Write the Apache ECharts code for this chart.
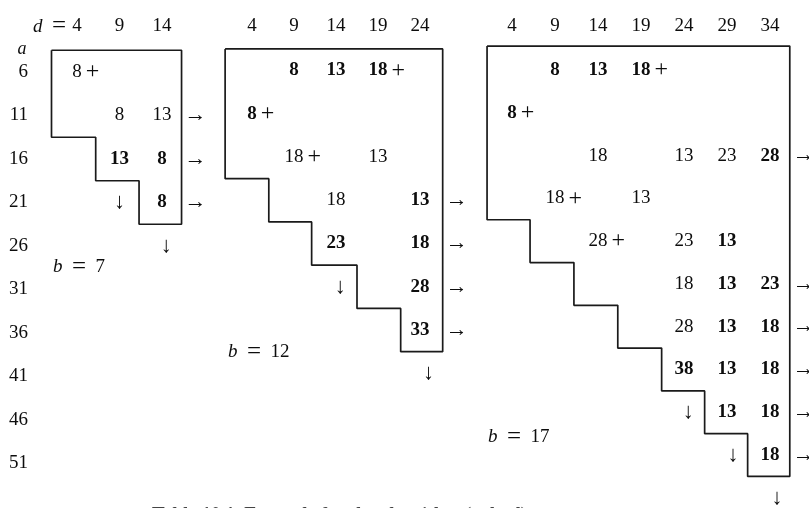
<!DOCTYPE html>
<html><head><meta charset="utf-8">
<script src="https://cdn.jsdelivr.net/npm/echarts@6/dist/echarts.min.js"></script>
<style>html,body{margin:0;padding:0;background:#fff}#c{width:809px;height:508px}</style>
</head><body><div id="c"></div>
<script>
// ---------- data ----------
const rowLabels = [6, 11, 16, 21, 26, 31, 36, 41, 46, 51];          // a
const colLabels1 = [4, 9, 14];                                      // d (b = 7)
const colLabels2 = [4, 9, 14, 19, 24];                              // d (b = 12)
const colLabels3 = [4, 9, 14, 19, 24, 29, 34];                      // d (b = 17)
const bValues = [7, 12, 17];

// table b = 7   entries: [d, a, text]
const plain1 = [[4, 6, '8+'], [9, 11, '8'], [14, 11, '13']];
const bold1 = [[9, 16, '13'], [14, 16, '8'], [14, 21, '8']];
const down1 = [[9, 21], [14.5, 26]];
const exitRows1 = [11, 16, 21];
const border1 = [[1, 3.5], [16.3, 3.5], [16.3, 23.5], [11.3, 23.5], [11.3, 18.5],
  [6.2, 18.5], [6.2, 13.5], [1, 13.5], [1, 3.5]];

// table b = 12
const plain2 = [[9, 16, '18+'], [19, 16, '13'], [14, 21, '18']];
const bold2 = [[9, 6, '8'], [14, 6, '13'], [19, 6, '18+'], [4, 11, '8+'], [24, 21, '13'],
  [14, 26, '23'], [24, 26, '18'], [24, 31, '28'], [24, 36, '33']];
const down2 = [[14.5, 31], [25, 41]];
const exitRows2 = [21, 26, 31, 36];
const border2 = [[0.8, 3.5], [26.7, 3.5], [26.7, 38.5], [21.7, 38.5], [21.7, 33.5],
  [16.5, 33.5], [16.5, 28.5], [11.1, 28.5], [11.1, 23.5], [6, 23.5], [6, 18.5],
  [0.8, 18.5], [0.8, 3.5]];

// table b = 17
const plain3 = [[14, 16, '18'], [24, 16, '13'], [29, 16, '23'], [9, 21, '18+'], [19, 21, '13'],
  [14, 26, '28+'], [24, 26, '23'], [24, 31, '18'], [24, 36, '28']];
const bold3 = [[9, 6, '8'], [14, 6, '13'], [19, 6, '18+'], [4, 11, '8+'], [34, 16, '28'],
  [29, 26, '13'], [29, 31, '13'], [34, 31, '23'], [29, 36, '13'], [34, 36, '18'],
  [24, 41, '38'], [29, 41, '13'], [34, 41, '18'], [29, 46, '13'], [34, 46, '18'], [34, 51, '18']];
const down3 = [[24.5, 46], [29.7, 51], [34.8, 56]];
const exitRows3 = [16, 31, 36, 41, 46, 51];
const border3 = [[1.1, 3.2], [36.3, 3.2], [36.3, 53.5], [31.4, 53.5], [31.4, 48.5],
  [26.4, 48.5], [26.4, 43.5], [21.4, 43.5], [21.4, 38.5], [16.3, 38.5], [16.3, 33.5],
  [11.2, 33.5], [11.2, 28.5], [6.1, 28.5], [6.1, 23.5], [1.1, 23.5], [1.1, 3.2]];

const captionText = 'Table 10.1  Example for the algorithm (a, b, d)';

// ---------- presentation ----------
const SERIF = '"Liberation Serif", "DejaVu Serif", serif';
const INK = '#0d0d0d';
const FS = 19;
const HEADER_Y = 26.5;

const tables = [
  { cols: colLabels1, plain: plain1, bold: bold1, down: down1, exits: exitRows1, border: border1,
    grid: { left: 43, top: 19.8, width: 170, height: 56 * 8.7 }, xmax: 20, ymax: 56 },
  { cols: colLabels2, plain: plain2, bold: bold2, down: down2, exits: exitRows2, border: border2,
    grid: { left: 218.4, top: 18.6, width: 28 * 8.4, height: 56 * 8.65 }, xmax: 28, ymax: 56 },
  { cols: colLabels3, plain: plain3, bold: bold3, down: down3, exits: exitRows3, border: border3,
    grid: { left: 477.6, top: 18.7, width: 38 * 8.6, height: 57 * 8.556 }, xmax: 38, ymax: 57 }
];

function fmt(t) {
  return t.endsWith('+') ? t.slice(0, -1) + '{p|+}' : t;
}
function cellData(list) {
  return list.map(([d, a, t]) => {
    const n = t.replace('+', '').length;
    return { value: [d, a], name: t, label: { offset: [-n * FS * 0.25, 0] } };
  });
}
const richPlus = { p: { fontSize: 24, fontFamily: SERIF, fontWeight: 'normal', color: INK, padding: [0, 0, 0, 4] } };
const hidden = { color: 'rgba(0,0,0,0)', opacity: 1 };

const grid = [], xAxis = [], yAxis = [], series = [];
tables.forEach((tb, i) => {
  grid.push(Object.assign({ outerBoundsMode: 'none', containLabel: false }, tb.grid));
  xAxis.push({
    type: 'value', gridIndex: i, position: 'top', min: 0, max: tb.xmax,
    axisLine: { show: false }, axisTick: { show: false }, splitLine: { show: false },
    axisLabel: { customValues: tb.cols, margin: tb.grid.top - HEADER_Y, verticalAlign: 'middle',
      fontFamily: SERIF, fontSize: FS, color: INK }
  });
  yAxis.push({
    type: 'value', gridIndex: i, min: 0, max: tb.ymax, inverse: true, show: i === 0,
    axisLine: { show: false }, axisTick: { show: false }, splitLine: { show: false },
    axisLabel: { customValues: rowLabels, margin: 15, align: 'right',
      fontFamily: SERIF, fontSize: FS, color: INK }
  });
  series.push({
    type: 'line', xAxisIndex: i, yAxisIndex: i, data: tb.border, symbol: 'none',
    lineStyle: { color: '#1a1a1a', width: 1.7 }, clip: false, silent: true
  });
  const cellLabel = (weight) => ({
    show: true, position: 'inside', align: 'left', verticalAlign: 'middle', opacity: 1,
    formatter: p => fmt(p.name), fontFamily: SERIF, fontSize: FS, fontWeight: weight,
    color: INK, rich: richPlus
  });
  series.push({
    type: 'scatter', xAxisIndex: i, yAxisIndex: i, data: cellData(tb.plain), symbolSize: 2,
    itemStyle: hidden, label: cellLabel('normal'), clip: false, silent: true
  });
  series.push({
    type: 'scatter', xAxisIndex: i, yAxisIndex: i, data: cellData(tb.bold), symbolSize: 2,
    itemStyle: hidden, label: cellLabel('bold'), clip: false, silent: true
  });
  series.push({
    type: 'scatter', xAxisIndex: i, yAxisIndex: i, data: tb.down, symbolSize: 2,
    itemStyle: hidden, clip: false, silent: true,
    label: { show: true, position: 'inside', opacity: 1, formatter: '↓', fontFamily: SERIF, fontSize: 22, color: INK }
  });
  const rightEdge = Math.max(...tb.border.map(p => p[0]));
  series.push({
    type: 'scatter', xAxisIndex: i, yAxisIndex: i, data: tb.exits.map(a => [rightEdge, a]),
    symbolSize: 2, itemStyle: hidden, clip: false, silent: true,
    label: { show: true, position: 'right', distance: 2, opacity: 1, formatter: '→', fontFamily: SERIF, fontSize: 22, color: INK }
  });
});

const richMath = {
  i: { fontStyle: 'italic', fontFamily: SERIF, fontSize: FS, fill: INK },
  e: { fontFamily: SERIF, fontSize: 25, fill: INK }
};
const bPos = [[53, 267], [228, 352], [488, 437]];
const graphic = [
  { type: 'text', x: 66, y: HEADER_Y, style: { text: '{i|d}\u2002{e|=}', rich: richMath,
      fontFamily: SERIF, fontSize: FS, fill: INK, align: 'right', verticalAlign: 'middle' } },
  { type: 'text', x: 22, y: 49, style: { text: 'a', fontStyle: 'italic',
      fontFamily: SERIF, fontSize: 18, fill: INK, align: 'center', verticalAlign: 'middle' } }
].concat(bValues.map((b, k) => ({
  type: 'text', x: bPos[k][0], y: bPos[k][1],
  style: { text: '{i|b}\u2002{e|=}\u2002' + b, rich: richMath, fontFamily: SERIF, fontSize: FS,
    fill: INK, align: 'left', verticalAlign: 'middle' }
}))).concat([
  { type: 'text', x: 152, y: 515, style: { text: captionText, fontFamily: SERIF, fontSize: 19,
      fontWeight: 'bold', fill: '#444', align: 'left', verticalAlign: 'middle' } }
]);

const chart = echarts.init(document.getElementById('c'), null, { renderer: 'canvas' });
chart.setOption({
  animation: false,
  backgroundColor: '#ffffff',
  grid, xAxis, yAxis, series, graphic
});
</script></body></html>
